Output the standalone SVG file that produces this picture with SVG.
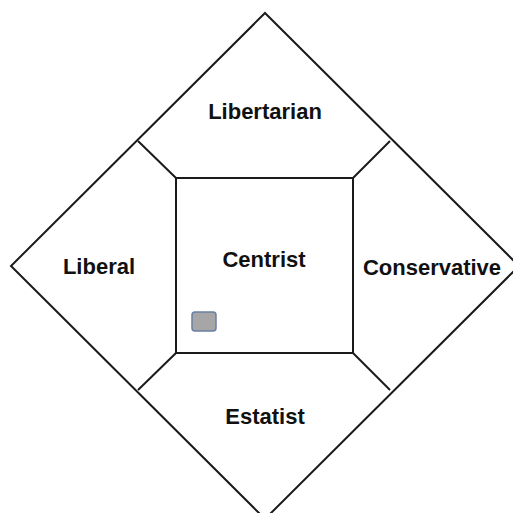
<svg xmlns="http://www.w3.org/2000/svg" width="513" height="513" viewBox="0 0 513 513">
<style>
.ln{fill:none;stroke:#1a1a1a;stroke-width:2}
.tx{font-family:"Liberation Sans",Arial,sans-serif;font-weight:bold;font-size:22px;fill:#111;text-anchor:middle}
</style>
<rect width="513" height="513" fill="#fff"/>
<g id="diamond"><polygon class="ln" points="265,13 519,266 265,519 11,266"/></g>
<g id="connectors">
<line class="ln" x1="176" y1="178" x2="138" y2="141"/>
<line class="ln" x1="353" y1="178" x2="390" y2="141"/>
<line class="ln" x1="176" y1="353" x2="138" y2="390"/>
<line class="ln" x1="353" y1="353" x2="390" y2="390"/>
</g>
<g id="centrist"><rect class="ln" x="176" y="178" width="177" height="175"/><text class="tx" x="264" y="267">Centrist</text></g>
<g id="libertarian"><text class="tx" x="265" y="119">Libertarian</text></g>
<g id="liberal"><text class="tx" x="99" y="274">Liberal</text></g>
<g id="conservative"><text class="tx" x="432" y="275">Conservative</text></g>
<g id="estatist"><text class="tx" x="265" y="424">Estatist</text></g>
<g id="marker"><rect x="192" y="312" width="24" height="19" rx="3" fill="#a6a6a6" stroke="#6b80a3" stroke-width="1.5"/></g>
</svg>
